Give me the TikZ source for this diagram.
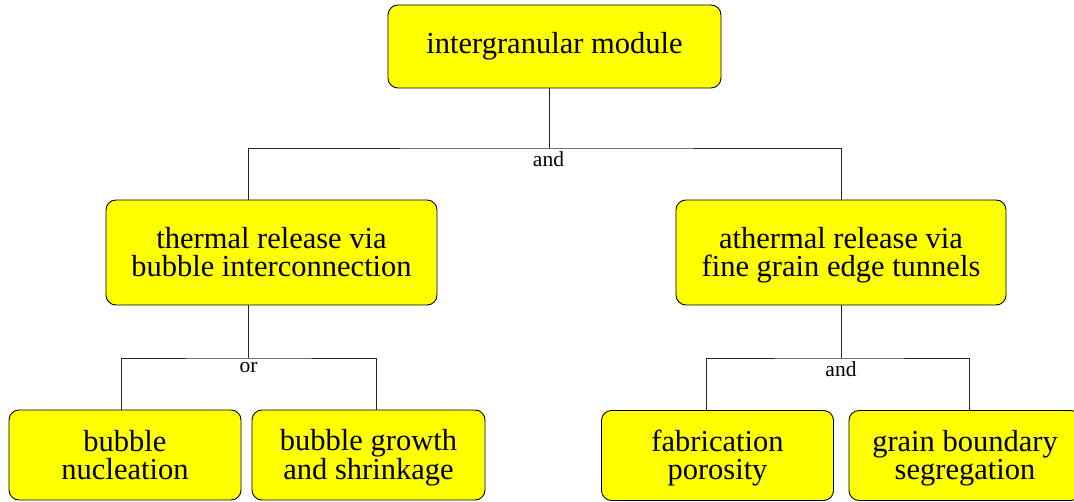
\documentclass[tikz,border=0pt]{standalone}
\usepackage{fontspec}
\setmainfont{Liberation Serif}
\usetikzlibrary{positioning}

\definecolor{gelb}{RGB}{255,255,0}
\newcommand{\zweizeilig}[2]{\rule{0pt}{28.8pt}#1\\#2\strut}
\tikzset{
  modul/.style={draw=black, fill=gelb, rounded corners=10pt, line width=0.9pt,
    align=center, inner sep=0pt, font=\fontsize{30.5}{27.7}\selectfont},
  verbindung/.style={draw=black!85, line width=0.9pt},
  marke/.style={anchor=base, inner sep=0pt, font=\fontsize{21.5}{22}\selectfont}
}

\begin{document}
\begin{tikzpicture}[x=1pt,y=-1pt]
     \useasboundingbox (0,0) rectangle (1074,502);

     % Module
     \node[modul, minimum width=333pt, minimum height=83pt] (inter) at (554.5,46.5) {\rule[-7.5pt]{0pt}{20.5pt}intergranular module};
     \node[modul, minimum width=331pt, minimum height=105pt] (therm) at (271.5,252.5) {\zweizeilig{thermal release via}{bubble interconnection}};
     \node[modul, minimum width=330pt, minimum height=105pt] (atherm) at (841,252.5) {\zweizeilig{athermal release via}{fine grain edge tunnels}};
     \node[modul, minimum width=232pt, minimum height=90pt] (nukl) at (125,455) {\zweizeilig{bubble}{nucleation}};
     \node[modul, minimum width=233pt, minimum height=90pt] (wachs) at (368.5,455) {\zweizeilig{bubble growth}{and shrinkage}};
     \node[modul, minimum width=232pt, minimum height=90pt] (fabr) at (717.5,455.5) {\zweizeilig{fabrication}{porosity}};
     \node[modul, minimum width=232pt, minimum height=90pt] (korn) at (965,455.5) {\zweizeilig{grain boundary}{segregation}};

     % Verzweigungen
     \coordinate (v1) at (549,148);
     \coordinate (v2) at (248,358);
     \coordinate (v3) at (841,358);

     \draw[verbindung] (inter.south -| v1) -- (v1);
     \draw[verbindung] (therm.north -| v2) |- (v1) -| (atherm.north);
     \draw[verbindung] (therm.south -| v2) -- (v2);
     \draw[verbindung] (nukl.north -| 121,0) |- (v2) -| (wachs.north -| 376,0);
     \draw[verbindung] (atherm.south) -- (v3);
     \draw[verbindung] (fabr.north -| 706,0) |- (v3) -| (korn.north -| 969,0);

     \node[marke] (und1) at (548.5,167) {and};
     \node[marke] (oder) at (248.5,373) {or};
     \node[marke] (und2) at (841,377) {and};

   \end{tikzpicture}
\end{document}
